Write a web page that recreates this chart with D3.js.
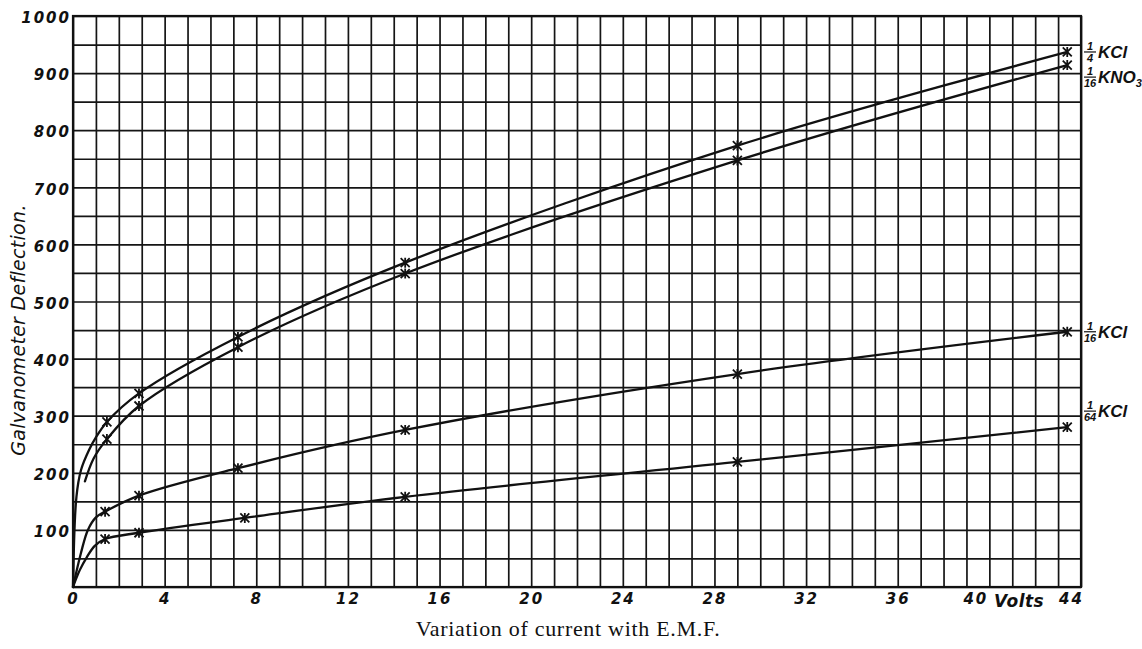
<!DOCTYPE html>
<html lang="en">
<head>
<meta charset="UTF-8">
<title>Variation of current with E.M.F.</title>
<script src="https://d3js.org/d3.v7.min.js"></script>
<style>
    body { margin: 0; background: #fff; }
    svg { display: block; }
    .tick-lab { font-family: "DejaVu Sans", sans-serif; font-style: italic; font-weight: bold; font-size: 15px; fill: #111; letter-spacing: 2px; }
    .axis-title { font-family: "DejaVu Sans", sans-serif; font-style: italic; font-size: 19px; fill: #111; letter-spacing: 0.3px; }
    .caption { font-family: "Liberation Serif", serif; font-size: 22px; fill: #111; letter-spacing: 0.7px; }
    .series-lab { font-family: "Liberation Sans", sans-serif; font-style: italic; font-weight: bold; font-size: 17px; fill: #111; }
    .frac { font-family: "Liberation Sans", sans-serif; font-style: italic; font-weight: bold; font-size: 11px; fill: #111; }
</style>
</head>
<body>
<svg width="1142" height="649"></svg>
<script>
    // values (volts, deflection)
    const kcl4Marks  = [[1.48, 289], [2.88, 339], [7.2, 438], [14.5, 568], [29.0, 773], [43.4, 937]];
    const kno3Marks  = [[1.48, 259], [2.88, 317], [7.2, 420], [14.5, 549], [29.0, 747], [43.4, 914]];
    const kcl16Marks = [[1.4, 132], [2.88, 160], [7.2, 208], [14.5, 275], [29.0, 373], [43.4, 447]];
    const kcl64Marks = [[1.4, 84], [2.88, 95], [7.5, 121], [14.5, 158], [29.0, 219], [43.4, 280]];

    // unmarked start of each drawn curve
    const kcl4Start  = [[0, 0], [0.15, 158], [0.35, 205], [0.7, 240], [1.0, 262]];
    const kno3Start  = [[0.52, 185], [0.9, 225]];
    const kcl16Start = [[0, 0], [0.35, 60], [0.65, 100], [1.0, 122]];
    const kcl64Start = [[0, 0], [0.3, 30], [0.6, 52], [0.95, 72]];

    const seriesNames = ["KCl", "KNO", "KCl", "KCl"];
    const seriesNum = ["1", "1", "1", "1"];
    const seriesDen = ["4", "16", "16", "64"];
    const seriesSub = ["", "3", "", ""];

    const xTicks = [0, 4, 8, 12, 16, 20, 24, 28, 32, 36, 40, 44];
    const yTicks = [100, 200, 300, 400, 500, 600, 700, 800, 900, 1000];

    const svg = d3.select("svg");
    svg.append("rect").attr("width", 1142).attr("height", 649).attr("fill", "#fff");

    const mLeft = 73, mRight = 1081, mTop = 16, mBottom = 587;
    const x = d3.scaleLinear().domain([0, 44]).range([mLeft, mRight]);
    const y = d3.scaleLinear().domain([0, 1000]).range([mBottom, mTop]);

    // grid, one line per volt and per 50 divisions
    svg.append("g")
        .attr("transform", `translate(0,${mBottom})`)
        .call(d3.axisBottom(x).tickValues(d3.range(0, 45)).tickSize(-(mBottom - mTop)).tickFormat(""))
        .call(g => g.select(".domain").remove())
        .call(g => g.selectAll("line").attr("stroke", "#151515").attr("stroke-width", 1.7));

    svg.append("g")
        .attr("transform", `translate(${mLeft},0)`)
        .call(d3.axisLeft(y).tickValues(d3.range(0, 1001, 50)).tickSize(-(mRight - mLeft)).tickFormat(""))
        .call(g => g.select(".domain").remove())
        .call(g => g.selectAll("line").attr("stroke", "#151515").attr("stroke-width", 1.7));

    svg.append("rect")
        .attr("x", mLeft).attr("y", mTop)
        .attr("width", mRight - mLeft).attr("height", mBottom - mTop)
        .attr("fill", "none").attr("stroke", "#111").attr("stroke-width", 2.2);

    // tick labels
    svg.append("g")
        .attr("transform", `translate(0,${mBottom})`)
        .call(d3.axisBottom(x).tickValues(xTicks).tickSize(0).tickPadding(6).tickFormat(d3.format("d")))
        .call(g => g.select(".domain").remove())
        .call(g => g.selectAll("text").attr("class", "tick-lab")
            .attr("dx", d => d === 44 ? -10 : (d === 40 ? -14 : 0)));

    svg.append("text").attr("class", "tick-lab")
        .attr("x", x(41.3)).attr("y", mBottom + 20)
        .attr("text-anchor", "middle")
        .style("font-size", "17px").style("letter-spacing", "0.5px")
        .text("Volts");

    svg.append("g")
        .attr("transform", `translate(${mLeft},0)`)
        .call(d3.axisLeft(y).tickValues(yTicks).tickSize(0).tickPadding(2).tickFormat(d3.format("d")))
        .call(g => g.select(".domain").remove())
        .call(g => g.selectAll("text").attr("class", "tick-lab").attr("dy", "0.45em"));

    svg.append("text").attr("class", "axis-title")
        .attr("transform", "translate(25,330) rotate(-90)")
        .attr("text-anchor", "middle")
        .text("Galvanometer Deflection.");

    svg.append("text").attr("class", "caption")
        .attr("x", 568).attr("y", 636)
        .attr("text-anchor", "middle")
        .text("Variation of current with E.M.F.");

    // curves
    const line = d3.line()
        .x(d => x(d[0])).y(d => y(d[1]))
        .curve(d3.curveCatmullRom.alpha(0.5));

    const allMarks = [kcl4Marks, kno3Marks, kcl16Marks, kcl64Marks];
    const allStarts = [kcl4Start, kno3Start, kcl16Start, kcl64Start];

    allMarks.forEach((marks, i) => {
        svg.append("path")
            .attr("d", line(allStarts[i].concat(marks)))
            .attr("fill", "none")
            .attr("stroke", "#111")
            .attr("stroke-width", 2.3)
            .attr("stroke-linecap", "round");

        const m = svg.append("g").selectAll("g").data(marks).join("g")
            .attr("transform", d => `translate(${x(d[0])},${y(d[1])})`);
        m.append("path")
            .attr("d", "M-4.5,-4.5L4.5,4.5M-4.5,4.5L4.5,-4.5M0,-5L0,5")
            .attr("stroke", "#111").attr("stroke-width", 1.8);
    });

    // series labels at the right edge
    const labDy = [0, 12, 0, -16];
    allMarks.forEach((marks, i) => {
        const last = marks[marks.length - 1];
        const ly = y(last[1]) + labDy[i];
        const g = svg.append("g").attr("transform", `translate(${mRight + 3},${ly})`);
        g.append("text").attr("class", "frac").attr("x", 6).attr("y", -2)
            .attr("text-anchor", "middle").text(seriesNum[i]);
        g.append("line").attr("x1", 0).attr("x2", 12).attr("y1", 0).attr("y2", 0)
            .attr("stroke", "#111").attr("stroke-width", 1.2);
        g.append("text").attr("class", "frac").attr("x", 6).attr("y", 10)
            .attr("text-anchor", "middle").text(seriesDen[i]);
        const t = g.append("text").attr("class", "series-lab").attr("x", 14).attr("y", 6)
            .text(seriesNames[i]);
        if (seriesSub[i]) {
            t.append("tspan").attr("dy", 4).style("font-size", "11px").text(seriesSub[i]);
        }
    });
</script>
</body>
</html>
